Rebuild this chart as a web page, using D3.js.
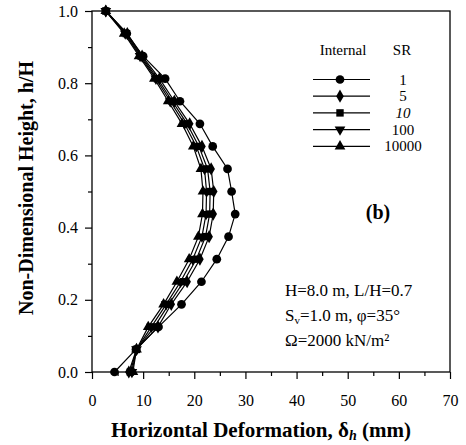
<!DOCTYPE html>
<html><head><meta charset="utf-8">
<script src="https://cdn.jsdelivr.net/npm/d3@7"></script>
<style>body{margin:0;background:#fff}svg{display:block}</style>
</head><body><svg id="c" width="466" height="445"></svg>
<script>
const heights = [0,0.0625,0.125,0.1875,0.25,0.3125,0.375,0.4375,0.5,0.5625,0.625,0.6875,0.75,0.8125,0.875,0.9375,1.0];
const sr1     = [4.4,8.6,13.0,17.5,21.4,24.4,26.7,28.0,27.3,26.5,23.6,21.1,17.2,14.3,10.0,6.8,2.7];
const sr5     = [7.2,8.7,12.9,15.5,18.6,21.1,22.9,23.7,23.8,23.3,21.5,19.1,16.1,13.2,9.8,6.9,2.7];
const sr10    = [7.5,8.7,12.2,15.0,17.9,20.4,22.2,23.0,23.1,22.6,20.9,18.6,15.7,12.8,9.6,6.7,2.7];
const sr100   = [7.8,8.7,11.6,14.5,17.3,19.7,21.5,22.3,22.4,22.0,20.4,18.1,15.3,12.5,9.4,6.5,2.7];
const sr10000 = [8.0,8.7,11.0,14.0,16.6,19.0,20.8,21.6,21.7,21.3,19.8,17.6,14.9,12.2,9.2,6.3,2.7];
const seriesNames = ["1","5","10","100","10000"];
const seriesValues = [sr1, sr5, sr10, sr100, sr10000];
const symbols = [d3.symbolCircle, d3.symbolDiamond, d3.symbolSquare, "down", d3.symbolTriangle];
const xTicks = [0,10,20,30,40,50,60,70];
const yTicks = [0,0.2,0.4,0.6,0.8,1.0];
const notes = ["H=8.0 m, L/H=0.7","S|v|=1.0 m, φ=35°","Ω=2000 kN/m²"];

const FONT = "'Liberation Serif', 'DejaVu Serif', serif";
const svg = d3.select("#c").attr("font-family",FONT);
const L=92,R=450,T=11,B=372;
const x = d3.scaleLinear().domain([0,70]).range([L,R]);
const y = d3.scaleLinear().domain([0,1]).range([B,T]);

// frame
svg.append("rect").attr("x",L).attr("y",T).attr("width",R-L).attr("height",B-T).attr("fill","none").attr("stroke","#000").attr("stroke-width",1.3);

// x axis
const xa = svg.append("g").attr("transform",`translate(0,${B})`).call(d3.axisBottom(x).tickValues(xTicks).tickSize(7).tickFormat(d3.format("d")));
xa.attr("font-family",FONT);
xa.select(".domain").remove();
xa.selectAll("text").attr("font-size",16).attr("y",20).attr("dy","0.9em").attr("fill","#000");
svg.append("g").attr("transform",`translate(0,${B})`).call(d3.axisBottom(x).tickValues(d3.range(5,70,10)).tickSize(4).tickFormat(""))
  .select(".domain").remove();
// y axis
const ya = svg.append("g").attr("transform",`translate(${L},0)`).call(d3.axisLeft(y).tickValues(yTicks).tickSize(7).tickFormat(d3.format(".1f")));
ya.attr("font-family",FONT);
ya.select(".domain").remove();
ya.selectAll("text").attr("font-size",16).attr("x",-14).attr("fill","#000");
svg.append("g").attr("transform",`translate(${L},0)`).call(d3.axisLeft(y).tickValues(d3.range(0.1,1,0.2)).tickSize(4).tickFormat(""))
  .select(".domain").remove();
svg.selectAll(".tick line").attr("stroke","#000").attr("stroke-width",1.2);

// axis titles
const xt = svg.append("text").attr("x",261).attr("y",437).attr("text-anchor","middle").attr("font-size",21).attr("font-weight","bold");
xt.append("tspan").text("Horizontal Deformation, δ");
xt.append("tspan").attr("font-style","italic").attr("font-size",14).attr("dy",3).text("h");
xt.append("tspan").attr("dy",-3).text(" (mm)");
svg.append("text").attr("transform",`translate(33,${188}) rotate(-90)`).attr("text-anchor","middle").attr("font-size",20).attr("font-weight","bold").text("Non-Dimensional Height, h/H");

function sym(s,size){
  if(s==="down") return d3.symbol().type(d3.symbolTriangle).size(size)() ;
  return d3.symbol().type(s).size(size)();
}
const sizes=[60,50,55,50,50];
const line = d3.line().x(d=>x(d[0])).y(d=>y(d[1]));
seriesValues.forEach((vals,i)=>{
  const pts = vals.map((v,j)=>[v,heights[j]]);
  svg.append("path").attr("d",line(pts)).attr("fill","none").attr("stroke","#000").attr("stroke-width",1.2);
  svg.append("g").selectAll("path").data(pts).join("path")
    .attr("d",sym(symbols[i],sizes[i]))
    .attr("transform",d=>`translate(${x(d[0])},${y(d[1])})`+(symbols[i]==="down"?" rotate(180)":""))
    .attr("fill","#000");
});

// legend
svg.append("text").attr("x",343).attr("y",55).attr("text-anchor","middle").attr("font-size",15).text("Internal");
svg.append("text").attr("x",402).attr("y",55).attr("text-anchor","middle").attr("font-size",15).text("SR");
seriesNames.forEach((n,i)=>{
  const ly = 79.5 + i*16.7;
  svg.append("line").attr("x1",313).attr("x2",370).attr("y1",ly).attr("y2",ly).attr("stroke","#000").attr("stroke-width",1.2);
  svg.append("path").attr("d",sym(symbols[i],sizes[i])).attr("transform",`translate(340,${ly})`+(symbols[i]==="down"?" rotate(180)":"")).attr("fill","#000");
  svg.append("text").attr("x",403).attr("y",ly+5).attr("text-anchor","middle").attr("font-size",15).attr("font-style",n==="10"?"italic":"normal").text(n);
});

svg.append("text").attr("x",378).attr("y",219).attr("text-anchor","middle").attr("font-size",20).attr("font-weight","bold").text("(b)");

// notes
notes.forEach((t,i)=>{
  const tx = svg.append("text").attr("x",285).attr("y",296+i*25).attr("font-size",17);
  const parts = t.split("|");
  tx.append("tspan").text(parts[0]);
  if(parts.length>1){
    tx.append("tspan").attr("font-size",11).attr("dy",3).text(parts[1]);
    tx.append("tspan").attr("dy",-3).text(parts[2]);
  }
});
</script></body></html>
